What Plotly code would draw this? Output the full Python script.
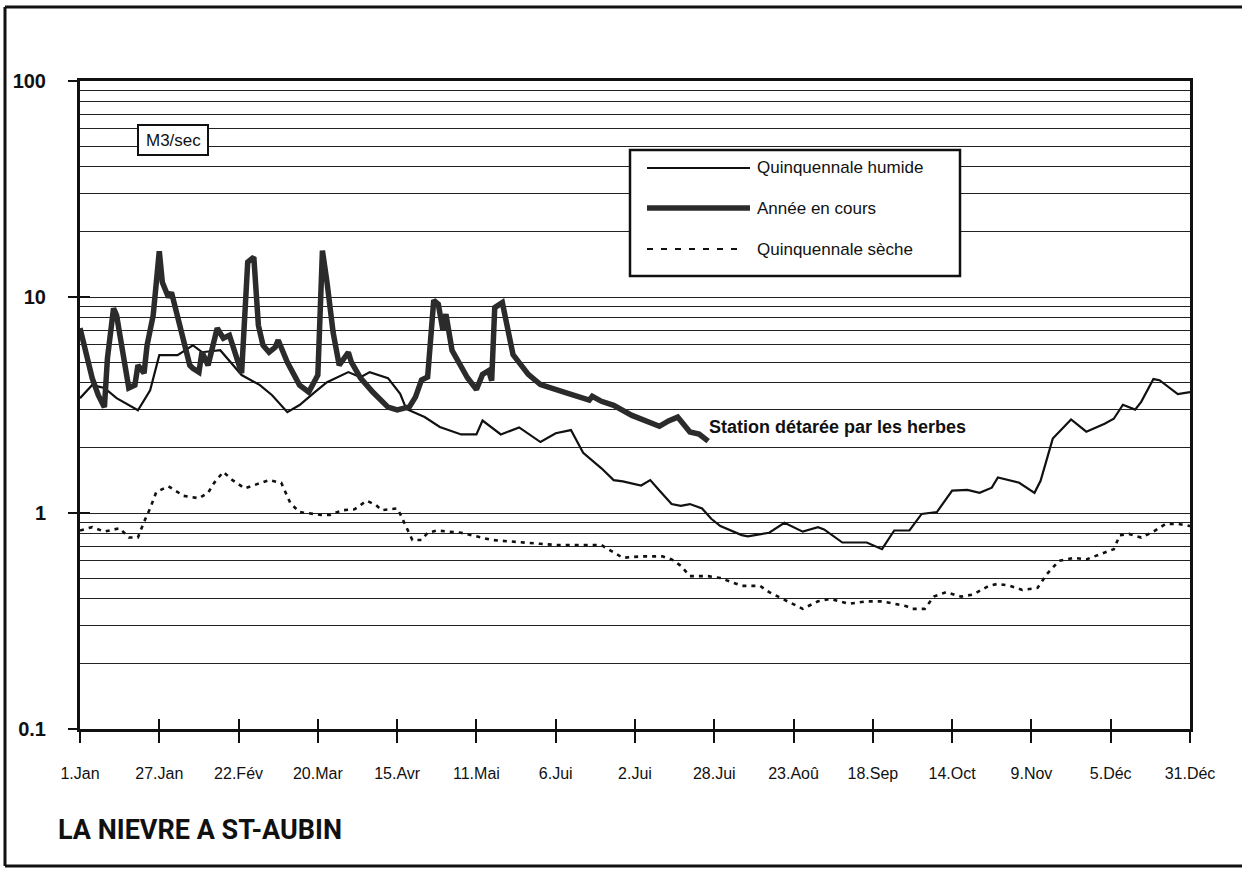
import math
import plotly.graph_objects as go

# Débits journaliers (m3/s) — jour de l'année
humide_jours = [1, 5, 9, 13, 20, 24, 27, 33, 38, 41, 47, 54, 60, 64, 69, 73, 78, 82, 89, 93,
                96, 102, 106, 108, 114, 119, 126, 131, 133, 139, 145, 152, 157, 162, 166, 172,
                176, 179, 185, 188, 191, 195, 198, 201, 205, 208, 211, 218, 220, 227, 232, 235,
                238, 243, 245, 251, 259, 264, 268, 273, 277, 282, 287, 292, 296, 300, 302, 309,
                314, 316, 320, 326, 331, 337, 340, 343, 347, 349, 353, 355, 361, 365]
humide_debit = [3.40, 3.91, 3.79, 3.40, 2.99, 3.70, 5.38, 5.38, 5.98, 5.55, 5.67, 4.35, 3.91,
                3.51, 2.93, 3.16, 3.63, 4.03, 4.49, 4.25, 4.49, 4.21, 3.56, 3.03, 2.78, 2.50,
                2.31, 2.31, 2.68, 2.31, 2.49, 2.13, 2.34, 2.42, 1.90, 1.61, 1.42, 1.40, 1.34,
                1.42, 1.27, 1.10, 1.08, 1.10, 1.05, 0.94, 0.87, 0.79, 0.78, 0.81, 0.90, 0.86,
                0.82, 0.86, 0.84, 0.73, 0.73, 0.68, 0.83, 0.83, 0.99, 1.01, 1.27, 1.28, 1.24,
                1.31, 1.46, 1.38, 1.24, 1.41, 2.21, 2.71, 2.38, 2.59, 2.73, 3.17, 3.01, 3.27,
                4.17, 4.12, 3.55, 3.63]

annee_jours = [1, 3, 5, 7, 9, 10, 12, 13, 15, 17, 19, 20, 22, 23, 25, 27, 28, 30, 31, 32, 35,
               37, 38, 40, 41, 43, 46, 48, 50, 52, 54, 56, 58, 59.5, 61, 63, 65, 66, 67.5, 69,
               73, 76, 79, 80.5, 82, 84, 86, 89, 90, 93, 97, 102, 105, 109, 111, 113, 115, 117,
               118.5, 120, 121, 123, 128, 131, 133, 135, 136, 137, 139.5, 141, 143, 148, 152,
               161, 168, 169, 172, 176, 182, 191, 194, 197, 201, 204, 207]
annee_debit = [7.17, 5.55, 4.21, 3.51, 3.09, 5.21, 8.87, 8.23, 5.79, 3.79, 3.91, 4.83, 4.44,
               5.98, 8.23, 16.3, 11.7, 9.97, 10.5, 9.16, 6.44, 4.83, 4.68, 4.49, 5.55, 4.83,
               7.17, 6.44, 6.65, 5.38, 4.44, 14.5, 15.3, 7.40, 5.98, 5.55, 5.85, 6.31, 5.67,
               4.99, 3.91, 3.63, 4.35, 16.4, 11.7, 6.87, 4.83, 5.55, 4.99, 4.21, 3.63, 3.09,
               3.00, 3.10, 3.44, 4.13, 4.26, 9.66, 9.26, 7.03, 8.33, 5.67, 4.24, 3.73, 4.38,
               4.56, 4.10, 8.93, 9.42, 7.45, 5.41, 4.38, 3.93, 3.58, 3.33, 3.47, 3.29, 3.15,
               2.83, 2.52, 2.67, 2.78, 2.37, 2.32, 2.15]

seche_jours = [1, 5, 9, 14, 17, 20, 22, 24, 26, 30, 35, 40, 43, 45, 48, 51, 55, 60, 63, 67, 70,
               73, 80, 83, 87, 91, 95, 98, 100, 105, 106, 108, 110, 113, 115, 118, 126, 136,
               145, 152, 158, 165, 172, 175, 179, 185, 192, 195, 198, 201, 207, 211, 218, 224,
               227, 233, 238, 243, 247, 253, 259, 264, 268, 272, 274, 278, 281, 285, 290, 294,
               299, 302, 306, 310, 315, 318, 322, 327, 331, 336, 340, 342, 345, 349, 353, 357,
               361, 365]
seche_debit = [0.83, 0.86, 0.82, 0.85, 0.77, 0.77, 0.91, 1.05, 1.25, 1.33, 1.20, 1.17, 1.24,
               1.38, 1.55, 1.42, 1.30, 1.38, 1.42, 1.38, 1.11, 1.01, 0.98, 0.98, 1.03, 1.04,
               1.14, 1.09, 1.03, 1.05, 0.99, 0.86, 0.75, 0.75, 0.81, 0.83, 0.81, 0.75, 0.73,
               0.72, 0.71, 0.71, 0.71, 0.67, 0.62, 0.63, 0.63, 0.61, 0.57, 0.51, 0.51, 0.50,
               0.46, 0.46, 0.43, 0.39, 0.36, 0.39, 0.40, 0.38, 0.39, 0.39, 0.38, 0.37, 0.36,
               0.36, 0.41, 0.43, 0.41, 0.42, 0.46, 0.47, 0.46, 0.44, 0.45, 0.52, 0.60, 0.62,
               0.61, 0.65, 0.68, 0.79, 0.80, 0.77, 0.82, 0.89, 0.89, 0.87]

# Axe des temps
tick_jours = [1, 27, 53, 79, 105, 131, 157, 183, 209, 235, 261, 287, 313, 339, 365]
tick_dates = ["1.Jan", "27.Jan", "22.Fév", "20.Mar", "15.Avr", "11.Mai", "6.Jui", "2.Jui",
              "28.Jui", "23.Aoû", "18.Sep", "14.Oct", "9.Nov", "5.Déc", "31.Déc"]

# Axe des débits (logarithmique)
decades = [0.1, 1, 10, 100]
decade_labels = ["0.1", "1", "10", "100"]
grille = [m * d for d in [0.1, 1, 10] for m in range(1, 10)] + [100]

W, H = 1242, 875
FONT = "Liberation Sans, Arial, Helvetica, sans-serif"
INK = "#111"
X0, X1 = 80, 1190      # plot area, pixels
Y0, Y1 = 81, 729


def px(x):
    return x / W


def py(y):
    return 1 - y / H


fig = go.Figure()

fig.add_trace(go.Scatter(x=seche_jours, y=seche_debit, mode="lines",
                         name="Quinquennale sèche", hoverinfo="x+y",
                         line=dict(color=INK, width=2.6, dash="4px,5px")))
fig.add_trace(go.Scatter(x=humide_jours, y=humide_debit, mode="lines",
                         name="Quinquennale humide", hoverinfo="x+y",
                         line=dict(color=INK, width=2.2)))
fig.add_trace(go.Scatter(x=annee_jours, y=annee_debit, mode="lines",
                         name="Année en cours", hoverinfo="x+y",
                         line=dict(color="#2b2b2b", width=5.5)))

# invisible carriers so the overlaid tick axes get drawn
fig.add_trace(go.Scatter(x=tick_jours[:1], y=decades[1:2], xaxis="x2", yaxis="y2",
                         mode="markers", marker=dict(opacity=0), hoverinfo="skip",
                         showlegend=False))
fig.add_trace(go.Scatter(x=tick_jours[:1], y=decades[1:2], xaxis="x", yaxis="y3",
                         mode="markers", marker=dict(opacity=0), hoverinfo="skip",
                         showlegend=False))

xdom = [px(X0), px(X1)]
ydom = [py(Y1), py(Y0)]

fig.update_layout(
    width=W, height=H,
    margin=dict(l=0, r=0, t=0, b=0, pad=0, autoexpand=False),
    paper_bgcolor="white", plot_bgcolor="white",
    showlegend=False,
    font=dict(family=FONT, color=INK),
    xaxis=dict(domain=xdom, range=[1, 365], anchor="y", automargin=False,
               tickmode="array", tickvals=tick_jours, ticktext=tick_dates,
               ticks="outside", ticklen=11, tickwidth=2, tickcolor=INK,
               ticklabelstandoff=17,
               tickfont=dict(size=16, family=FONT, color=INK),
               showgrid=False, zeroline=False,
               showline=True, linewidth=3, linecolor=INK, mirror=True),
    xaxis2=dict(domain=xdom, range=[1, 365], overlaying="x", anchor="y", automargin=False,
                tickmode="array", tickvals=tick_jours, showticklabels=False,
                ticks="inside", ticklen=10, tickwidth=2, tickcolor=INK,
                showgrid=False, zeroline=False, showline=False),
    yaxis=dict(domain=ydom, type="log", range=[-1, 2], anchor="x", automargin=False,
               tickmode="array", tickvals=grille, showticklabels=False, ticks="",
               showgrid=True, gridcolor="#222", gridwidth=1.4, zeroline=False,
               showline=True, linewidth=3, linecolor=INK, mirror=True),
    yaxis2=dict(domain=ydom, type="log", range=[-1, 2], overlaying="y", anchor="x",
                automargin=False,
                tickmode="array", tickvals=decades, ticktext=decade_labels,
                ticks="outside", ticklen=11, tickwidth=2, tickcolor=INK,
                ticklabelstandoff=18,
                tickfont=dict(size=20, family=FONT, color=INK, weight="bold"),
                showgrid=False, zeroline=False, showline=False),
    yaxis3=dict(domain=ydom, type="log", range=[-1, 2], overlaying="y", anchor="x",
                automargin=False,
                tickmode="array", tickvals=decades, showticklabels=False,
                ticks="inside", ticklen=10, tickwidth=2, tickcolor=INK,
                showgrid=False, zeroline=False, showline=False),
)

shapes = []
# page frame (left, top, bottom)
shapes.append(dict(type="line", xref="paper", yref="paper", x0=px(5), x1=px(5),
                   y0=py(7), y1=py(866), line=dict(color=INK, width=3)))
shapes.append(dict(type="line", xref="paper", yref="paper", x0=px(5), x1=1,
                   y0=py(7), y1=py(7), line=dict(color=INK, width=3)))
shapes.append(dict(type="line", xref="paper", yref="paper", x0=px(5), x1=1,
                   y0=py(866), y1=py(866), line=dict(color=INK, width=3)))

# unit box
shapes.append(dict(type="rect", xref="paper", yref="paper",
                   x0=px(138), x1=px(208), y0=py(155), y1=py(125),
                   fillcolor="white", line=dict(color=INK, width=2)))

# legend box
LX0, LX1, LY0, LY1 = 630, 960, 150, 276
shapes.append(dict(type="rect", xref="paper", yref="paper",
                   x0=px(LX0), x1=px(LX1), y0=py(LY1), y1=py(LY0),
                   fillcolor="white", line=dict(color=INK, width=2.5)))
legend_rows = [
    ("Quinquennale humide", 168, dict(color=INK, width=2.2), 750),
    ("Année en cours", 208, dict(color="#2b2b2b", width=5.5), 750),
    ("Quinquennale sèche", 249, dict(color=INK, width=2.2, dash="6px,8px"), 740),
]
annotations = []
for label, yy, ln, xend in legend_rows:
    shapes.append(dict(type="line", xref="paper", yref="paper",
                       x0=px(647), x1=px(xend), y0=py(yy), y1=py(yy), line=ln))
    annotations.append(dict(xref="paper", yref="paper", x=px(755), y=py(yy),
                            xanchor="left", yanchor="middle", showarrow=False,
                            text=label, font=dict(size=17, family=FONT, color=INK)))

annotations.append(dict(xref="paper", yref="paper", x=px(173), y=py(140),
                        xanchor="center", yanchor="middle", showarrow=False,
                        text="M3/sec", font=dict(size=17, family=FONT, color=INK)))

# note next to the end of the current-year curve (log axis: position in decades)
annotations.append(dict(xref="x", yref="y", x=206.5, y=math.log10(2.5),
                        xanchor="left", yanchor="middle", showarrow=False,
                        text="Station détarée par les herbes",
                        font=dict(size=18, family=FONT, color=INK, weight="bold")))

annotations.append(dict(xref="paper", yref="paper", x=px(56), y=py(830),
                        xanchor="left", yanchor="middle", showarrow=False,
                        text="LA NIEVRE A ST-AUBIN",
                        font=dict(size=27, color=INK, weight="bold",
                                  family="Roboto, Liberation Sans, Arial, sans-serif")))

fig.update_layout(shapes=shapes, annotations=annotations)

fig.write_html("out.html")
